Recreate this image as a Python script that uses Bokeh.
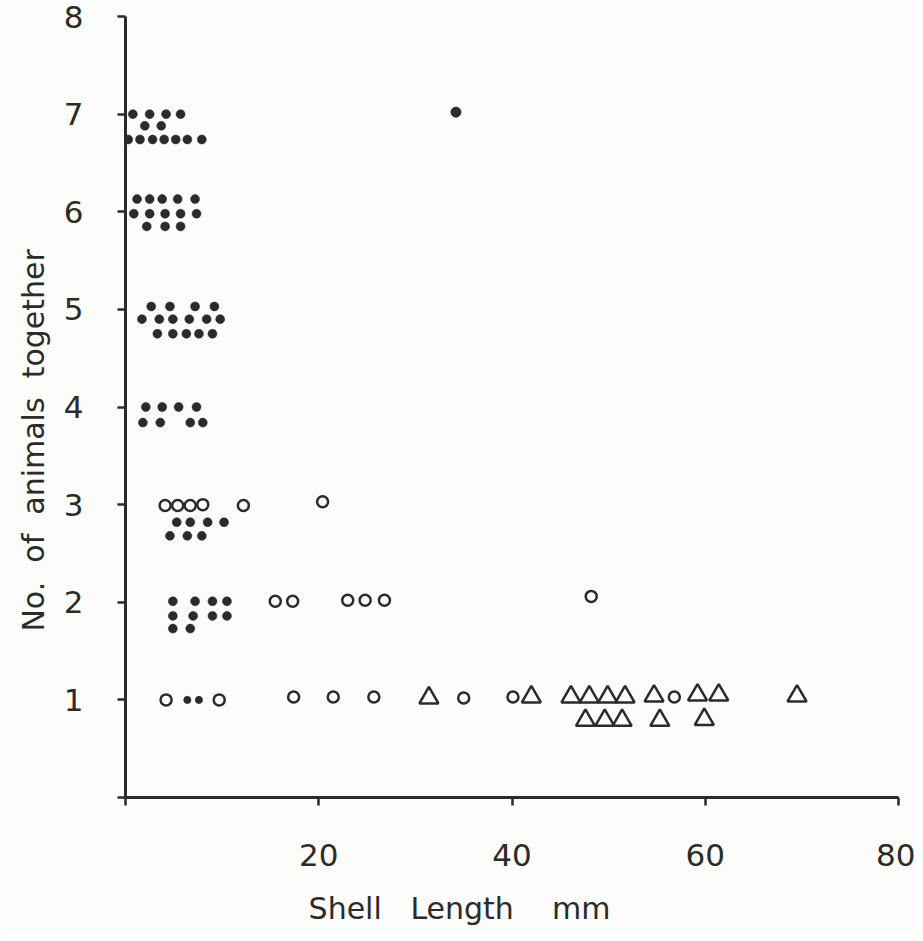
from bokeh.plotting import figure
from bokeh.models import FixedTicker, Range1d
from bokeh.embed import file_html
from bokeh.resources import INLINE

# ---- data (plotted positions) ----
# filled dots: x = shell length (mm), y = no. of animals (stacked rows)
dot_x = [0.76, 2.5, 4.2, 5.7,
         2.0, 3.7,
         0.28, 1.5, 2.8, 4.0, 5.2, 6.4, 7.9,
         1.2, 2.5, 3.8, 5.4, 7.2,
         0.86, 2.5, 4.1, 5.7, 7.35,
         2.2, 4.1, 5.7,
         2.66, 4.6, 7.2, 9.2,
         1.7, 3.5, 4.9, 6.6, 8.4, 9.8,
         3.3, 4.9, 6.3, 7.6, 9.0,
         2.1, 3.8, 5.5, 7.35,
         1.8, 3.6, 6.7, 8.0,
         5.3, 6.7, 8.5, 10.2,
         4.6, 6.4, 7.9,
         4.9, 7.2, 9.0, 10.5,
         4.9, 7.0, 9.0, 10.5,
         4.9, 6.7]
dot_y = [7.0] * 4 + [6.88] * 2 + [6.74] * 7 + \
        [6.13] * 5 + [5.98] * 5 + [5.85] * 3 + \
        [5.03] * 4 + [4.9] * 6 + [4.75] * 5 + \
        [4.0] * 4 + [3.84] * 4 + \
        [2.82] * 4 + [2.68] * 3 + \
        [2.01] * 4 + [1.86] * 4 + [1.73] * 2

big_dot_x = [34.2]
big_dot_y = [7.02]

small_dot_x = [6.4, 7.6]
small_dot_y = [1.0, 1.0]

circle_x = [4.1, 5.4, 6.7, 8.0, 12.2, 20.4,
            15.5, 17.3, 23.0, 24.8, 26.8, 48.2,
            4.2, 9.7, 17.4, 21.5, 25.7, 35.0, 40.1, 56.8]
circle_y = [2.99, 2.99, 2.99, 3.0, 2.99, 3.03,
            2.01, 2.01, 2.02, 2.02, 2.02, 2.06,
            1.0, 1.0, 1.03, 1.03, 1.03, 1.02, 1.03, 1.03]

tri_x = [31.4, 42.0, 46.1, 48.0, 49.9, 51.7, 54.7, 59.2, 61.4, 69.5,
         47.6, 49.6, 51.4, 55.3, 59.9]
tri_y = [1.02, 1.03, 1.03, 1.03, 1.03, 1.03, 1.04, 1.05, 1.05, 1.04,
         0.79, 0.79, 0.79, 0.79, 0.8]

x_ticks = [0, 20, 40, 60, 80]
y_ticks = [0, 1, 2, 3, 4, 5, 6, 7, 8]

x_title = "Shell   Length    mm"
y_title = "No.  of  animals  together"

INK = "#2b2b29"
FONT = "DejaVu Sans"
NB = "\u00a0"

p = figure(width=915, height=933, output_backend="svg", toolbar_location=None,
           x_range=Range1d(0, 80), y_range=Range1d(0, 8),
           min_border_left=125, min_border_right=17,
           min_border_top=16, min_border_bottom=136)
p.background_fill_color = "#fcfcfa"
p.border_fill_color = "#fcfcfa"
p.outline_line_color = None
p.grid.visible = False

for ax in (p.xaxis[0], p.yaxis[0]):
    ax.axis_line_color = INK
    ax.axis_line_width = 3
    ax.major_tick_line_color = INK
    ax.major_tick_line_width = 2.5
    ax.major_tick_out = 8
    ax.major_tick_in = 0
    ax.minor_tick_line_color = None
    ax.major_label_text_font = FONT
    ax.major_label_text_font_size = "31px"
    ax.major_label_text_color = INK
    ax.axis_label_text_font = FONT
    ax.axis_label_text_font_size = "30px"
    ax.axis_label_text_font_style = "normal"
    ax.axis_label_text_color = INK

p.xaxis.ticker = FixedTicker(ticks=x_ticks)
p.yaxis.ticker = FixedTicker(ticks=y_ticks)
p.xaxis.major_label_overrides = {0: ""}
p.yaxis.major_label_overrides = {0: ""}
p.xaxis.major_label_standoff = 38
p.yaxis.major_label_standoff = 34

# trailing non-breaking spaces shift the centred titles as in the original
p.xaxis.axis_label = x_title.replace(" ", NB) + NB * 11
p.yaxis.axis_label = y_title.replace(" ", NB) + NB * 7
p.xaxis.axis_label_standoff = 22
p.yaxis.axis_label_standoff = 10

p.scatter(dot_x, dot_y, marker="circle", size=9, fill_color=INK, line_color=INK, line_width=0.5)
p.scatter(big_dot_x, big_dot_y, marker="circle", size=10, fill_color=INK, line_color=INK)
p.scatter(small_dot_x, small_dot_y, marker="circle", size=7, fill_color=INK, line_color=INK)
p.scatter(circle_x, circle_y, marker="circle", size=11, fill_color=None, line_color=INK, line_width=2.5)
p.scatter(tri_x, tri_y, marker="triangle", size=19, fill_color=None, line_color=INK, line_width=2.5)

open("out.html", "w").write(file_html(p, INLINE))
